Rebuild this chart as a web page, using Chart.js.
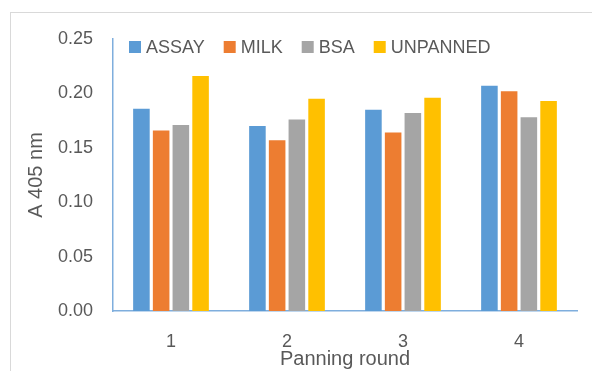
<!DOCTYPE html>
<html>
<head>
<meta charset="utf-8">
<script src="https://cdn.jsdelivr.net/npm/chart.js@4"></script>
<style>
  html, body { margin: 0; padding: 0; background: #ffffff; }
  #wrap { position: relative; width: 592px; height: 371px; overflow: hidden; }
  #frame { position: absolute; left: 10px; top: 12px; width: 700px; height: 500px; border: 1px solid #d9d9d9; box-sizing: border-box; }
  canvas { position: absolute; left: 0; top: 0; }
</style>
</head>
<body>
<div id="wrap">
  <div id="frame"></div>
  <canvas id="c" width="592" height="371"></canvas>
</div>
<script>
const categories = ['1', '2', '3', '4'];
const assay    = [0.186, 0.170, 0.185, 0.207];
const milk     = [0.166, 0.157, 0.164, 0.202];
const bsa      = [0.171, 0.176, 0.182, 0.178];
const unpanned = [0.216, 0.195, 0.196, 0.193];
const yTicks   = [0, 0.05, 0.10, 0.15, 0.20, 0.25];

const textColor = '#595959';
const font = 'Liberation Sans, Arial, sans-serif';

// Legend drawn inside the plot area, in one row, from the chart's datasets
const insideLegend = {
  id: 'insideLegend',
  afterDraw(chart) {
    const ctx = chart.ctx;
    const area = chart.chartArea;
    let x = area.left + 16;
    const yc = area.top + 8;
    ctx.save();
    ctx.font = '18px ' + font;
    ctx.textBaseline = 'middle';
    ctx.textAlign = 'left';
    chart.data.datasets.forEach((ds) => {
      ctx.fillStyle = ds.backgroundColor;
      ctx.fillRect(x, yc - 6, 12, 12);
      x += 12 + 5;
      ctx.fillStyle = textColor;
      ctx.fillText(ds.label, x, yc + 1);
      x += ctx.measureText(ds.label).width + 19;
    });
    ctx.restore();
  }
};

new Chart(document.getElementById('c'), {
  type: 'bar',
  data: {
    labels: categories,
    datasets: [
      { label: 'ASSAY', data: assay, backgroundColor: '#5B9BD5' },
      { label: 'MILK', data: milk, backgroundColor: '#ED7D31' },
      { label: 'BSA', data: bsa, backgroundColor: '#A5A5A5' },
      { label: 'UNPANNED', data: unpanned, backgroundColor: '#FFC000' }
    ]
  },
  plugins: [insideLegend],
  options: {
    responsive: false,
    animation: false,
    devicePixelRatio: 1,
    datasets: { bar: { barPercentage: 0.84, categoryPercentage: 0.68 } },
    layout: { padding: { left: 0, right: 15, top: 39, bottom: 0 } },
    plugins: {
      legend: { display: false },
      tooltip: { enabled: false }
    },
    scales: {
      x: {
        grid: { display: false },
        border: { display: true, color: '#7FAEDD', width: 1.5 },
        ticks: { color: textColor, font: { family: font, size: 18 }, padding: 12 },
        title: { display: true, text: 'Panning round', color: textColor, font: { family: font, size: 20 }, padding: { top: 0, bottom: 0 } },
        afterFit: (s) => { s.height = 60; }
      },
      y: {
        min: 0, max: 0.25,
        grid: { display: false },
        border: { display: true, color: '#7FAEDD', width: 1.5 },
        afterBuildTicks: (s) => { s.ticks = yTicks.map(v => ({ value: v })); },
        ticks: { color: textColor, font: { family: font, size: 18 }, padding: 12,
                 callback: (v) => Number(v).toFixed(2) },
        title: { display: true, text: 'A 405 nm', color: textColor, font: { family: font, size: 20 }, padding: { top: 24, bottom: 0 } },
        afterFit: (s) => { s.width = 113; }
      }
    }
  }
});
</script>
</body>
</html>
